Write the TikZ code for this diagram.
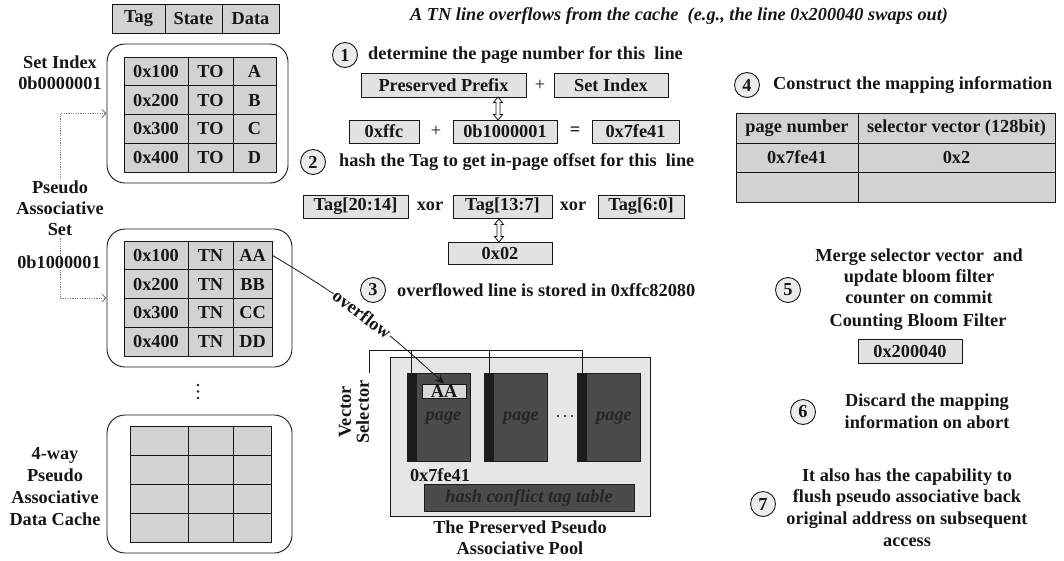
\documentclass[tikz,border=0pt]{standalone}
\usepackage{fontspec}
\setmainfont{Liberation Serif}
\usetikzlibrary{arrows.meta,calc}
\definecolor{ink}{HTML}{161616}
\definecolor{cellgray}{HTML}{D2D2D2}
\definecolor{boxgray}{HTML}{E2E2E2}
\definecolor{poolgray}{HTML}{E6E6E6}
\definecolor{pagegray}{HTML}{4B4B4B}
\definecolor{spine}{HTML}{1C1C1C}
\definecolor{pagetext}{HTML}{252525}
\definecolor{linkgray}{HTML}{7A7A7A}
\newcommand{\bodysize}[1]{\fontsize{18.3}{#1}\selectfont}
\tikzset{
  txt/.style={font=\bodysize{21.5}\bfseries, text=ink, inner sep=0pt},
  cell/.style={txt, draw=ink, line width=0.9pt, fill=cellgray, anchor=center},
  valbox/.style={txt, draw=ink, line width=0.9pt, fill=boxgray, minimum height=23pt},
  group/.style={draw=ink, line width=0.9pt, rounded corners=18pt},
  stepnum/.style={txt, circle, draw=ink, line width=0.9pt, fill=boxgray!70, minimum size=25pt},
  pagebox/.style={draw=spine, line width=0.6pt, fill=pagegray, minimum width=63pt, minimum height=88pt},
  pageword/.style={txt, text=pagetext, font=\bodysize{20}\bfseries\itshape},
  wire/.style={draw=ink, line width=0.9pt},
  link/.style={draw=linkgray, line width=0.8pt, dash pattern=on 1.2pt off 1.2pt},
  dblarrow/.pic={
    \draw[ink, line width=0.8pt, fill=white]
      (0,-11.5) -- (4.5,-6) -- (2,-6) -- (2,6) -- (4.5,6) -- (0,11.5)
      -- (-4.5,6) -- (-2,6) -- (-2,-6) -- (-4.5,-6) -- cycle;
  }
}
\begin{document}
\begin{tikzpicture}[x=1pt,y=-1pt]
\useasboundingbox (0,0) rectangle (1064,560);

% ---------- cache: field header ----------
\node[cell, minimum width=53pt, minimum height=29pt] (hTag) at (138.5,18.5) {Tag};
\node[cell, minimum width=57pt, minimum height=29pt] (hState) at (193.5,18.5) {State};
\node[cell, minimum width=57pt, minimum height=29pt] (hData) at (250.5,18.5) {Data};

% ---------- set 0b0000001 ----------
\node[group, minimum width=181pt, minimum height=139pt] (setA) at (197.5,113.5) {};
\foreach \t/\s/\d [count=\i] in {0x100/TO/A,0x200/TO/B,0x300/TO/C,0x400/TO/D} {
  \node[cell, minimum width=64pt, minimum height=28.75pt] (a\i t) at (156,42.625+28.75*\i) {\t};
  \node[cell, minimum width=45pt, minimum height=28.75pt] (a\i s) at (210.5,42.625+28.75*\i) {\s};
  \node[cell, minimum width=43pt, minimum height=28.75pt] (a\i d) at (254.5,42.625+28.75*\i) {\d};
}

% ---------- set 0b1000001 ----------
\node[group, minimum width=185pt, minimum height=138pt] (setB) at (199.5,298) {};
\foreach \t/\s/\d [count=\i] in {0x100/TN/AA,0x200/TN/BB,0x300/TN/CC,0x400/TN/DD} {
  \node[cell, minimum width=64pt, minimum height=28.75pt] (b\i t) at (156,226.625+28.75*\i) {\t};
  \node[cell, minimum width=45pt, minimum height=28.75pt] (b\i s) at (210.5,226.625+28.75*\i) {\s};
  \node[cell, minimum width=39pt, minimum height=28.75pt] (b\i d) at (252.5,226.625+28.75*\i) {\d};
}

% ---------- remaining sets (elided) and the last, empty set ----------
\foreach \y in {385,391.5,398} \fill[ink] (198,\y) circle (1.4pt);
\node[group, minimum width=185pt, minimum height=138pt] (setC) at (199.5,484) {};
\foreach \i in {1,...,4} {
  \node[cell, minimum width=58pt, minimum height=29pt] (c\i t) at (159,411.5+29*\i) {};
  \node[cell, minimum width=45pt, minimum height=29pt] (c\i s) at (210.5,411.5+29*\i) {};
  \node[cell, minimum width=38pt, minimum height=29pt] (c\i d) at (252,411.5+29*\i) {};
}

% ---------- pseudo associative link between the two sets ----------
\draw[link, {Straight Barb[length=4pt,width=8pt]}-{Straight Barb[length=4pt,width=8pt]}]
  (setA.west) -| (60,200) |- (setB.west);

% ---------- left labels ----------
\node[txt, align=center] (lblIdx) at (60,72.5) {Set Index\\0b0000001};
\node[txt, align=center, fill=white, inner sep=2pt, font=\bodysize{21}\bfseries] (lblPseudo) at (60,208) {Pseudo\\Associative\\Set};
\node[txt] (lblIdxB) at (59,262) {0b1000001};
\node[txt, align=center, font=\bodysize{22}\bfseries] (lblCache) at (55,487) {4-way\\Pseudo\\Associative\\Data Cache};

% ---------- title ----------
\node[txt, anchor=west, font=\bodysize{20}\bfseries\itshape] (title) at (410,16)
  {A TN line overflows from the cache\ \ (e.g., the line 0x200040 swaps out)};

% ---------- step 1 ----------
\node[stepnum] (s1) at (345,55) {1};
\node[txt, anchor=west] (s1t) at (368,55) {determine the page number for this\ \ line};
\node[valbox, minimum width=165pt, minimum height=24pt] (prefix) at (443.5,85) {Preserved Prefix};
\node[txt, font=\bodysize{20}] (plusA) at (540,85) {+};
\node[valbox, minimum width=114pt, minimum height=24pt] (setidx) at (611,85) {Set Index};
\node[valbox, minimum width=70pt] (prefv) at (384,131.5) {0xffc};
\node[txt, font=\bodysize{20}] (plusB) at (436,131.5) {+};
\node[valbox, minimum width=104pt] (setv) at (505,131.5) {0b1000001};
\node[txt] (eqsign) at (575,131.5) {=};
\node[valbox, minimum width=87pt] (pagev) at (635.5,131.5) {0x7fe41};
\pic at (498,108.5) {dblarrow};

% ---------- step 2 ----------
\node[stepnum] (s2) at (313,162) {2};
\node[txt, anchor=west] (s2t) at (339,162) {hash the Tag to get in-page offset for this\ \ line};
\node[valbox, minimum width=105pt] (tagA) at (355.5,206.5) {Tag[20:14]};
\node[txt] (xorA) at (430,206.5) {xor};
\node[valbox, minimum width=99pt] (tagB) at (502.5,206.5) {Tag[13:7]};
\node[txt] (xorB) at (573,206.5) {xor};
\node[valbox, minimum width=86pt] (tagC) at (641,206.5) {Tag[6:0]};
\pic at (499,230.5) {dblarrow};
\node[valbox, minimum width=104pt, minimum height=22pt] (offv) at (500,253) {0x02};

% ---------- step 3 ----------
\node[stepnum] (s3) at (373,290) {3};
\node[txt, anchor=west] (s3t) at (397,290) {overflowed line is stored in 0xffc82080};

% ---------- preserved pseudo associative pool ----------
\node[draw=ink, line width=0.9pt, fill=poolgray, minimum width=260pt, minimum height=159pt] (pool) at (520,436.5) {};
\foreach \n/\x in {pg1/438.5,pg2/516,pg3/609} {
  \node[pagebox] (\n) at (\x,417) {};
  \fill[spine] (\n.north west) rectangle ($(\n.south west)+(10,0)$);
  \node[pageword] (\n w) at ($(\n.center)+(5,1)$) {page};
}
\node[cell, fill=cellgray!90!white, minimum width=44pt, minimum height=14pt] (aa) at (444,391) {AA};
\foreach \x in {558,565,572} \fill[ink] (\x,416) circle (1.1pt);
\node[txt] (pgnum) at (440,475) {0x7fe41};
\node[draw=spine, line width=0.8pt, fill=pagegray, minimum width=210pt, minimum height=27pt,
      pageword] (conflict) at (529,497.5) {hash conflict tag table};
\node[txt, align=center, rotate=90, font=\bodysize{18}\bfseries] (vsel) at (354,412) {Vector\\Selector};
\coordinate (vsEnd) at (369,373);
\draw[wire] (vsEnd) |- ($(pg3.north west)+(5,-22)$) -- ($(pg3.north west)+(5,0)$);
\draw[wire] ($(pg1.north west)+(5,0)$) -- ++(0,-22);
\draw[wire] ($(pg2.north west)+(5,0)$) -- ++(0,-22);
\node[txt, align=center, font=\bodysize{21}\bfseries] (poolcap) at (520,537.5) {The Preserved Pseudo\\Associative Pool};

% ---------- overflow of line AA ----------
\draw[wire, line width=0.8pt, -{Stealth[length=9pt,width=8pt]}] (b1d.east) to[bend left=6]
  node[txt, sloped, pos=0.5, fill=white, inner sep=1pt] (ovl) {overflow} (aa.north);

% ---------- step 4 ----------
\node[stepnum] (s4) at (747,85) {4};
\node[txt, anchor=west] (s4t) at (773,85) {Construct the mapping information};
\node[cell, minimum width=122pt, minimum height=30pt] (mh1) at (797,128) {page number};
\node[cell, minimum width=197pt, minimum height=30pt] (mh2) at (956.5,128) {selector vector (128bit)};
\node[cell, minimum width=122pt, minimum height=29pt] (mr1) at (797,157.5) {0x7fe41};
\node[cell, minimum width=197pt, minimum height=29pt] (mr2) at (956.5,157.5) {0x2};
\node[cell, minimum width=122pt, minimum height=30pt] (me1) at (797,187) {};
\node[cell, minimum width=197pt, minimum height=30pt] (me2) at (956.5,187) {};

% ---------- step 5 ----------
\node[stepnum] (s5) at (788,290) {5};
\node[txt, align=center, font=\bodysize{21}\bfseries] (s5t) at (919,276)
  {Merge selector vector\ \ and\\update bloom filter\\counter on commit};
\node[txt] (cbf) at (918,322) {Counting Bloom Filter};
\node[valbox, minimum width=104pt, minimum height=24pt] (cbfv) at (910,351) {0x200040};

% ---------- step 6 ----------
\node[stepnum] (s6) at (803,412) {6};
\node[txt, align=center, font=\bodysize{22}\bfseries] (s6t) at (927,411)
  {Discard the mapping\\information on abort};

% ---------- step 7 ----------
\node[stepnum] (s7) at (763,504) {7};
\node[txt, align=center, font=\bodysize{21.7}\bfseries] (s7t) at (907,507.5)
  {It also has the capability to\\flush pseudo associative back\\original address on subsequent\\access};
\end{tikzpicture}
\end{document}
